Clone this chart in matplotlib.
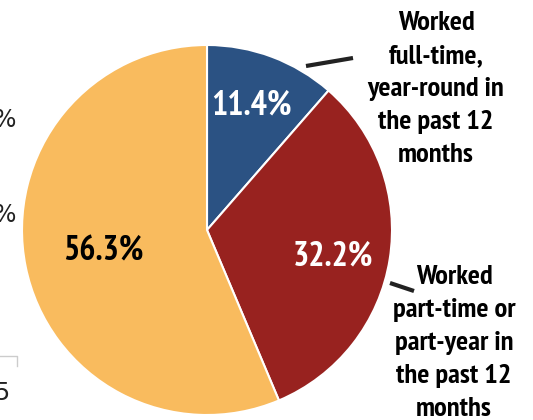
import matplotlib
matplotlib.use("Agg")
from matplotlib import pyplot as plt

# shares of people by work status
labels = ["Worked\nfull-time,\nyear-round in\nthe past 12\nmonths",
          "Worked\npart-time or\npart-year in\nthe past 12\nmonths",
          "Did not work"]
shares = [11.4, 32.2, 56.3]
colors = ["#2B5283", "#98221F", "#F9BB5E"]

W, H = 533, 420
fig = plt.figure(figsize=(W / 100, H / 100), dpi=100)
ax = fig.add_axes([0, 0, 1, 1])

cx, cy, r = 207, 190, 185
ax.pie(shares, colors=colors, startangle=90, counterclock=False,
       center=(cx, cy), radius=r, frame=True,
       wedgeprops=dict(edgecolor="white", linewidth=1.5))
ax.set_xlim(0, W)
ax.set_ylim(0, H)
ax.set_aspect("equal")
ax.axis("off")

fam = ["PT Sans Narrow", "DejaVu Sans"]

# percentages inside the slices
ax.text(251, 315, f"{shares[0]}%", color="white", fontsize=24.5, fontweight="bold",
        family=fam, ha="center", va="center")
ax.text(333, 164, f"{shares[1]}%", color="white", fontsize=24.5, fontweight="bold",
        family=fam, ha="center", va="center")
ax.text(103, 169, f"{shares[2]}%", color="black", fontsize=24.5, fontweight="bold",
        family=fam, ha="center", va="center")

# side labels with leader lines
ax.text(436, 420 - 89, labels[0], fontsize=20.5, fontweight="bold", family=fam,
        ha="center", va="center", linespacing=1.48)
ax.plot([306, 353], [420 - 66, 420 - 58], color="#222222", lw=3, solid_capstyle="butt")

ax.text(454, 420 - 343, labels[1], fontsize=20.5, fontweight="bold", family=fam,
        ha="center", va="center", linespacing=1.48)
ax.plot([390, 414], [420 - 283, 420 - 291], color="#222222", lw=3, solid_capstyle="butt")

# cut-off bits of the neighbouring chart at the left edge
ax.text(-6, 420 - 120, "%", fontsize=17, ha="left", va="center", color="#222222")
ax.text(-6, 420 - 215, "%", fontsize=17, ha="left", va="center", color="#222222")
ax.text(-6, 420 - 393, "5", fontsize=17, ha="left", va="center", color="#222222")
ax.plot([0, 17, 17], [420 - 356, 420 - 356, 420 - 366], color="#cccccc", lw=1)

fig.savefig("out.png", dpi=100)
